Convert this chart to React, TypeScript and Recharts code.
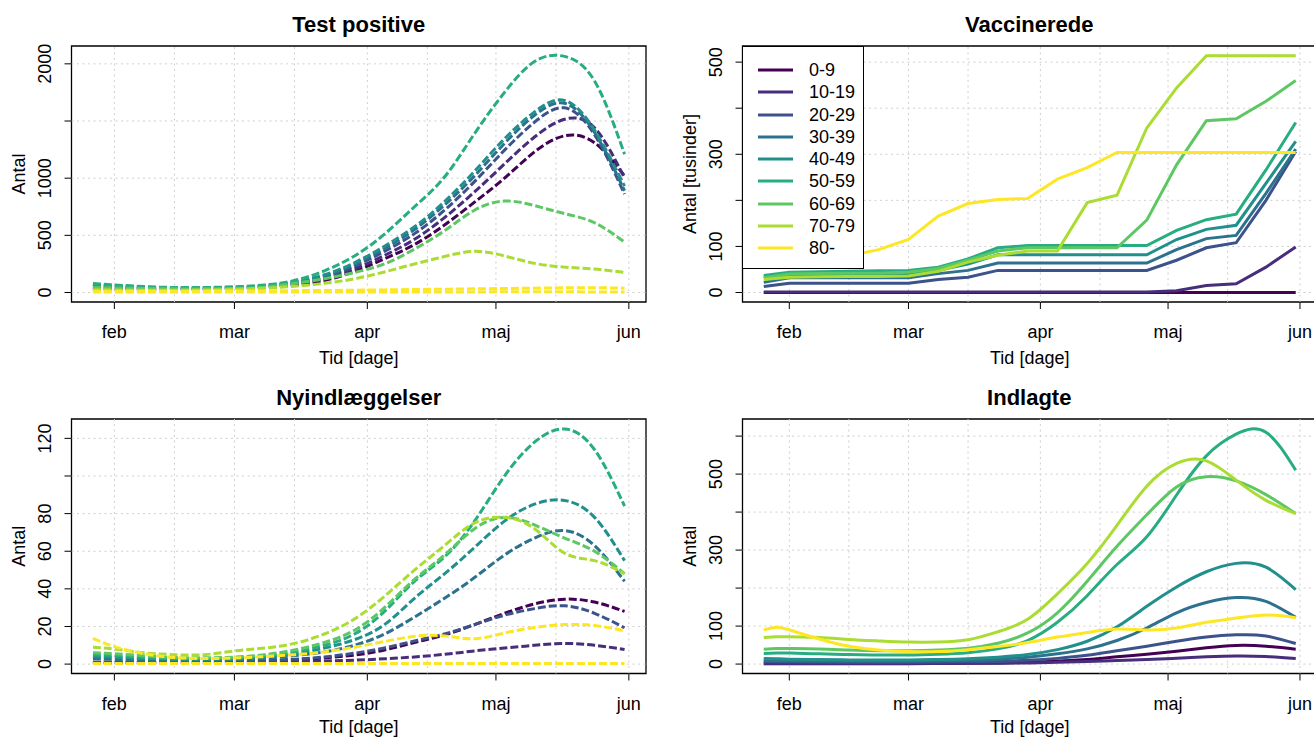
import React from 'react';
import { LineChart, Line, XAxis, YAxis, ReferenceLine, ReferenceArea, Legend, Label } from 'recharts';

const FONT = '"Liberation Sans", Arial, Helvetica, sans-serif';

const AGE_GROUPS = ['0-9', '10-19', '20-29', '30-39', '40-49', '50-59', '60-69', '70-79', '80-'];
const AGE_COLORS = ['#440154', '#472D7B', '#3B528B', '#2C728E', '#21908C', '#27AD81', '#5DC863', '#AADC32', '#FDE725'];

// days counted from 1 February
const MONTH_DAYS = [0, 28, 59, 89, 120];
const MONTH_LABELS = ['feb', 'mar', 'apr', 'maj', 'jun'];
const GRID_DAYS = [0, 14, 28, 42, 59, 73, 89, 103, 120];

const DAYS_SMOOTH = [-5, 0, 7, 14, 21, 28, 35, 42, 49, 56, 63, 70, 77, 84, 91, 98, 105, 112, 119];
const DAYS_VACC = [-6, 0, 7, 14, 21, 28, 35, 42, 49, 56, 63, 70, 77, 84, 91, 98, 105, 112, 119];
const DAYS_ADMITTED = [-6, -3, 0, 7, 14, 21, 28, 35, 42, 49, 56, 63, 70, 77, 84, 91, 98, 105, 112, 119];

// Test positive
const testPositive = [
  [30, 28, 26, 26, 28, 32, 42, 64, 105, 185, 295, 420, 590, 790, 1000, 1230, 1370, 1310, 1020],
  [40, 36, 32, 30, 31, 36, 46, 72, 120, 205, 325, 465, 655, 880, 1125, 1360, 1515, 1440, 1000],
  [55, 48, 40, 35, 35, 40, 52, 82, 135, 230, 360, 515, 720, 970, 1245, 1490, 1615, 1380, 860],
  [65, 55, 45, 38, 38, 43, 55, 87, 145, 245, 385, 550, 765, 1020, 1305, 1550, 1655, 1400, 890],
  [70, 60, 48, 40, 40, 45, 58, 92, 155, 260, 405, 575, 795, 1060, 1345, 1580, 1680, 1420, 930],
  [78, 66, 52, 44, 44, 50, 66, 105, 190, 320, 510, 750, 1010, 1390, 1750, 2020, 2065, 1850, 1210],
  [45, 40, 35, 32, 32, 35, 45, 80, 120, 175, 250, 380, 540, 720, 800, 760, 690, 610, 440],
  [25, 22, 20, 20, 22, 28, 38, 55, 80, 120, 180, 250, 315, 360, 320, 255, 222, 205, 175],
  [12, 12, 12, 12, 12, 13, 14, 16, 18, 20, 23, 26, 29, 32, 35, 38, 41, 42, 38],
];
const testPositiveLow = [5, 5, 4, 4, 4, 4, 4, 4, 4, 5, 5, 5, 5, 5, 6, 6, 6, 5, 5];

// Vaccinerede (tusinder)
const vaccinated = [
  [0, 0, 0, 0, 0, 0, 0, 0, 0, 0, 0, 0, 0, 0, 0, 0, 0, 0, 0],
  [1, 1, 1, 1, 1, 1, 1, 1, 1, 1, 1, 1, 1, 1, 4, 15, 19, 55, 99],
  [13, 20, 20, 20, 20, 20, 28, 33, 48, 48, 48, 48, 48, 48, 70, 97, 108, 200, 306],
  [22, 32, 32, 32, 32, 32, 41, 48, 64, 64, 64, 64, 64, 64, 93, 117, 124, 215, 311],
  [33, 38, 38, 38, 38, 40, 48, 62, 82, 82, 82, 82, 82, 82, 115, 137, 146, 237, 328],
  [37, 44, 45, 46, 47, 48, 55, 73, 97, 102, 102, 102, 102, 102, 135, 158, 170, 266, 369],
  [32, 40, 41, 42, 42, 44, 52, 70, 90, 97, 97, 97, 97, 157, 277, 373, 377, 415, 460],
  [28, 33, 34, 35, 35, 36, 46, 66, 81, 90, 90, 195, 211, 357, 444, 514, 514, 514, 514],
  [60, 65, 72, 80, 93, 115, 166, 193, 202, 204, 246, 271, 304, 304, 304, 304, 304, 304, 304],
];

// Nyindlæggelser
const newAdmissions = [
  [1, 1, 1, 1, 1, 1.2, 1.6, 2.3, 3.3, 4.8, 7.5, 11.5, 15.5, 21, 27, 32, 34.5, 33, 28],
  [0.5, 0.5, 0.5, 0.6, 0.7, 0.8, 1, 1.3, 1.7, 2.1, 2.8, 3.8, 5.2, 7, 8.5, 10, 11, 10, 7.8],
  [1, 1, 1, 1, 1, 1.3, 1.8, 2.6, 3.8, 5.8, 8.6, 12.3, 16, 21, 26, 29.5, 31, 27, 19.3],
  [3, 2.5, 2, 2, 2, 2.3, 3, 4.5, 6.5, 10, 16, 25, 35, 46, 58, 67, 71, 63, 44],
  [4, 3.5, 3, 2.5, 2.5, 2.8, 3.8, 5.5, 8.5, 13, 21, 35, 48, 62, 76, 85, 87, 78, 55],
  [5, 4.5, 3.5, 3, 3, 3.3, 4.5, 6.5, 10, 16, 28, 44, 57, 76, 100, 118, 125, 114, 84],
  [6, 5.5, 4.5, 3.5, 3.4, 3.7, 5, 7.5, 11.5, 18, 30, 45, 58, 72, 78, 74, 67, 60, 48],
  [9, 8, 6, 5, 5, 7, 8.5, 11, 16, 24, 36, 50, 63, 75, 78, 72, 59, 55, 48],
  [13.7, 9.3, 5.5, 3.5, 3, 3.2, 4, 5, 6.5, 9, 12, 14.8, 15, 13.5, 16.5, 19.5, 21, 20.5, 17.7],
];
const newAdmissionsLow = [0.3, 0.3, 0.3, 0.3, 0.3, 0.3, 0.3, 0.3, 0.3, 0.3, 0.3, 0.3, 0.3, 0.3, 0.3, 0.3, 0.3, 0.3, 0.3];

// Indlagte
const admitted = [
  [1, 1, 1, 1, 1, 1, 1, 1.5, 2, 3, 4.5, 8, 12, 19, 26, 34, 43, 49, 47, 39],
  [1.5, 1.5, 1.5, 1.5, 1.5, 1.5, 1.5, 1.7, 2, 2.4, 3, 4.5, 7, 9.5, 12, 15.5, 19, 21.5, 20, 14.8],
  [6, 6, 6, 5.5, 5, 5, 5, 5.5, 6, 7, 10, 15, 23, 35, 47, 60, 71, 77, 74, 54],
  [10, 9, 9, 8, 8, 8, 8, 9, 10, 13, 18, 27, 40, 62, 95, 135, 162, 175, 165, 123],
  [15, 14, 13, 12, 11, 11, 11, 12, 14, 18, 25, 38, 60, 98, 152, 203, 243, 265, 255, 196],
  [28, 29, 29, 27, 25, 24, 24, 26, 30, 40, 62, 110, 180, 262, 335, 445, 548, 605, 610, 510],
  [39, 41, 41, 40, 37, 35, 35, 37, 42, 55, 82, 135, 218, 310, 393, 466, 493, 482, 446, 396],
  [70, 72, 72, 70, 65, 61, 58, 58, 64, 85, 118, 185, 265, 365, 468, 528, 535, 484, 431, 396],
  [90, 97, 90, 66, 47, 37, 33, 33, 38, 46, 57, 71, 83, 92, 90, 95, 110, 121, 129, 122],
];

const TP_TICKS = [0, 500, 1000, 1500, 2000];
const TP_LABELS = ['0', '500', '1000', '', '2000'];
const VAC_TICKS = [0, 100, 200, 300, 400, 500];
const VAC_LABELS = ['0', '100', '', '300', '', '500'];
const NA_TICKS = [0, 20, 40, 60, 80, 100, 120];
const NA_LABELS = ['0', '20', '40', '60', '80', '', '120'];
const ADM_TICKS = [0, 100, 200, 300, 400, 500, 600];
const ADM_LABELS = ['0', '100', '', '300', '', '500', ''];

function buildRows(days: number[], series: number[][], low?: number[]) {
  return days.map((day, i) => {
    const row: Record<string, number> = { day };
    series.forEach((s, k) => {
      row['g' + k] = s[i];
    });
    if (low) row.low = low[i];
    return row;
  });
}

const PLOT_LEFT = 71.5;
const PLOT_TOP = 46;
const CHART_W = 657;

function YTick(props: any) {
  const { x, y, payload, ticks, labels } = props;
  const text = labels[ticks.indexOf(payload.value)];
  if (!text) return null;
  const bx = x - 6;
  return (
    <text x={bx} y={y} transform={`rotate(-90 ${bx} ${y})`} textAnchor="middle" fill="#000" fontSize={18} fontFamily={FONT}>
      {text}
    </text>
  );
}

function LegendBox(props: any) {
  const items = (props.payload || []).filter((p: any) => p.type !== 'none');
  return (
    <div style={{ width: 122, height: 223, boxSizing: 'border-box', border: '1px solid #000', background: '#fff', paddingTop: 12 }}>
      {items.map((p: any) => (
        <div key={p.value} style={{ height: 22.25, display: 'flex', alignItems: 'center' }}>
          <svg width={60} height={10} style={{ flex: 'none' }}>
            <line x1={15} x2={50} y1={5} y2={5} stroke={p.color} strokeWidth={3} />
          </svg>
          <span style={{ marginLeft: 6, fontFamily: FONT, fontSize: 18, color: '#000', lineHeight: '20px' }}>{p.value}</span>
        </div>
      ))}
    </div>
  );
}

interface PanelProps {
  left: number;
  top: number;
  plotHeight: number;
  xTitleOffset: number;
  title: string;
  yLabel: string;
  rows: Record<string, number>[];
  xDomain: [number, number];
  yDomain: [number, number];
  yTicks: number[];
  yLabels: string[];
  dashed: boolean;
  curve: 'natural' | 'linear';
  legend?: boolean;
  hasLow?: boolean;
}

function Panel({ left, top, plotHeight, xTitleOffset, title, yLabel, rows, xDomain, yDomain, yTicks, yLabels, dashed, curve, legend, hasLow }: PanelProps) {
  const height = 370;
  const xAxisH = height - PLOT_TOP - plotHeight;
  const dash = dashed ? '8 3' : undefined;
  return (
    <div style={{ position: 'absolute', left, top, width: CHART_W, height }}>
      <div style={{ position: 'absolute', left: PLOT_LEFT, width: 574.5, top: 12, textAlign: 'center', fontFamily: FONT, fontWeight: 'bold', fontSize: 22, color: '#000', whiteSpace: 'nowrap' }}>
        {title}
      </div>
      <LineChart width={CHART_W} height={height} data={rows} margin={{ top: PLOT_TOP, right: 11, bottom: 0, left: 0 }}>
        <XAxis
          type="number"
          dataKey="day"
          domain={xDomain}
          ticks={MONTH_DAYS}
          interval={0}
          allowDataOverflow
          axisLine={false}
          tickSize={7}
          tickMargin={16.5}
          tickLine={{ stroke: '#000' }}
          tick={{ fill: '#000', fontSize: 18, fontFamily: FONT }}
          tickFormatter={(v: number) => MONTH_LABELS[MONTH_DAYS.indexOf(v)]}
          height={xAxisH}
        >
          <Label
            content={({ viewBox }: any) => (
              <text x={viewBox.x + viewBox.width / 2} y={viewBox.y + xTitleOffset} textAnchor="middle" fill="#000" fontSize={18} fontFamily={FONT}>
                Tid [dage]
              </text>
            )}
          />
        </XAxis>
        <YAxis
          type="number"
          domain={yDomain}
          ticks={yTicks}
          interval={0}
          allowDataOverflow
          axisLine={false}
          width={PLOT_LEFT}
          tickSize={7}
          tickMargin={7}
          tickLine={{ stroke: '#000' }}
          tick={<YTick ticks={yTicks} labels={yLabels} />}
        >
          <Label
            content={({ viewBox }: any) => {
              const cy = viewBox.y + viewBox.height / 2;
              return (
                <text x={24.5} y={cy} transform={`rotate(-90 24.5 ${cy})`} textAnchor="middle" fill="#000" fontSize={18} fontFamily={FONT}>
                  {yLabel}
                </text>
              );
            }}
          />
        </YAxis>
        {yTicks.map((t) => (
          <ReferenceLine key={'h' + t} y={t} stroke="#cfcfcf" strokeDasharray="2 3.5" strokeWidth={1} />
        ))}
        {GRID_DAYS.map((d) => (
          <ReferenceLine key={'v' + d} x={d} stroke="#cfcfcf" strokeDasharray="2 3.5" strokeWidth={1} />
        ))}
        {AGE_GROUPS.map((g, k) => (
          <Line
            key={g}
            dataKey={'g' + k}
            name={g}
            type={curve}
            stroke={AGE_COLORS[k]}
            strokeWidth={3}
            strokeDasharray={dash}
            dot={false}
            activeDot={false}
            isAnimationActive={false}
          />
        ))}
        {hasLow && (
          <Line dataKey="low" name="80- (lav)" legendType="none" type={curve} stroke={AGE_COLORS[8]} strokeWidth={3} strokeDasharray={dash} dot={false} activeDot={false} isAnimationActive={false} />
        )}
        <ReferenceArea x1={xDomain[0]} x2={xDomain[1]} y1={yDomain[0]} y2={yDomain[1]} fill="none" fillOpacity={0} stroke="#000" strokeWidth={1.3} ifOverflow="visible" />
        {legend && (
          <Legend layout="vertical" align="center" verticalAlign="middle" content={<LegendBox />} wrapperStyle={{ left: PLOT_LEFT, top: PLOT_TOP, width: 122, height: 223 }} />
        )}
      </LineChart>
    </div>
  );
}

export default function App() {
  return (
    <div style={{ position: 'absolute', left: 0, top: 0, width: 1314, height: 740, overflow: 'hidden', background: '#fff' }}>
      <Panel
        left={0}
        top={0}
        plotHeight={256}
        xTitleOffset={61.5}
        title="Test positive"
        yLabel="Antal"
        rows={buildRows(DAYS_SMOOTH, testPositive, testPositiveLow)}
        xDomain={[-10, 124]}
        yDomain={[-83, 2156]}
        yTicks={TP_TICKS}
        yLabels={TP_LABELS}
        dashed
        curve="natural"
        hasLow
      />
      <Panel
        left={670.5}
        top={0}
        plotHeight={256}
        xTitleOffset={61.5}
        title="Vaccinerede"
        yLabel="Antal [tusinder]"
        rows={buildRows(DAYS_VACC, vaccinated)}
        xDomain={[-11, 124]}
        yDomain={[-20.6, 535]}
        yTicks={VAC_TICKS}
        yLabels={VAC_LABELS}
        dashed={false}
        curve="linear"
        legend
      />
      <Panel
        left={0}
        top={373}
        plotHeight={254.5}
        xTitleOffset={59.5}
        title="Nyindlæggelser"
        yLabel="Antal"
        rows={buildRows(DAYS_SMOOTH, newAdmissions, newAdmissionsLow)}
        xDomain={[-10, 124]}
        yDomain={[-5, 130.3]}
        yTicks={NA_TICKS}
        yLabels={NA_LABELS}
        dashed
        curve="natural"
        hasLow
      />
      <Panel
        left={670.5}
        top={373}
        plotHeight={254.5}
        xTitleOffset={59.5}
        title="Indlagte"
        yLabel="Antal"
        rows={buildRows(DAYS_ADMITTED, admitted)}
        xDomain={[-11, 124]}
        yDomain={[-24.8, 645]}
        yTicks={ADM_TICKS}
        yLabels={ADM_LABELS}
        dashed={false}
        curve="natural"
      />
    </div>
  );
}
